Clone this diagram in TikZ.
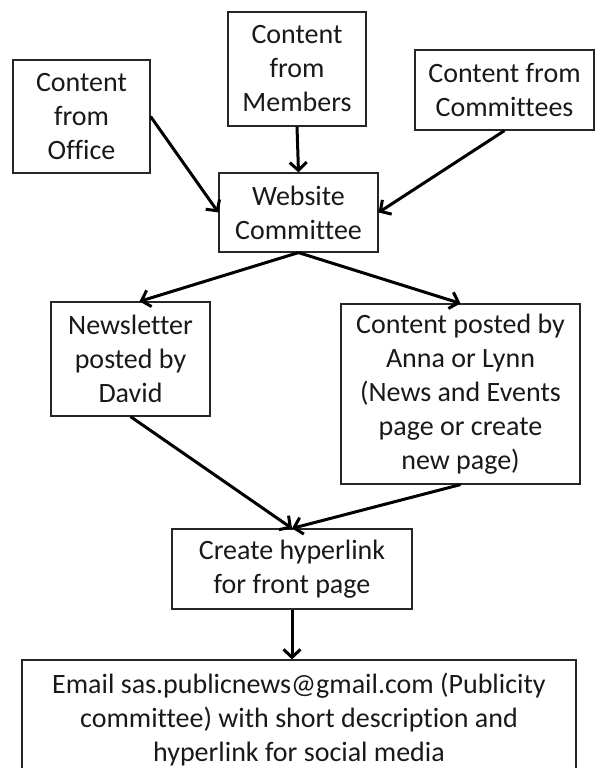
\documentclass[tikz,border=0pt]{standalone}
\usepackage{fontspec}
\setmainfont{Carlito}[Ligatures=NoCommon]
\usetikzlibrary{arrows.meta,calc}
\begin{document}
\begin{tikzpicture}[x=1pt,y=-1pt,
  box/.style={draw=black!85,line width=1.2pt,align=center,inner sep=0pt,
    font=\fontsize{28}{34}\selectfont,text=black!90},
  arr/.style={line width=3pt,-{Straight Barb[length=8pt,width=17pt,line width=3pt]}}]
\useasboundingbox (0,0) rectangle (595,768);
\node[box,minimum width=137pt,minimum height=113pt] (office) at (81.5,116.5) {Content\\from\\Office};
\node[box,minimum width=138pt,minimum height=114pt] (members) at (297,69) {Content\\from\\Members};
\node[box,minimum width=179pt,minimum height=80pt] (committees) at (504.5,90) {Content from\\Committees};
\node[box,minimum width=159pt,minimum height=79pt] (website) at (298.5,212.5) {Website\\Committee};
\node[box,minimum width=159pt,minimum height=114pt] (newsletter) at (130.5,359) {Newsletter\\posted by\\David};
\node[box,minimum width=239pt,minimum height=180pt] (content) at (460.5,394) {Content posted by\\Anna or Lynn\\(News and Events\\page or create\\new page)};
\node[box,minimum width=240pt,minimum height=80pt] (create) at (292,569) {Create hyperlink\\for front page};
\node[box,minimum width=554pt,minimum height=120pt] (email) at (299,720) {Email sas.publicnews@gmail.com (Publicity\\committee) with short description and\\hyperlink for social media};
\draw[arr] (office.east) -- (website.west);
\draw[arr] (members.south) -- (website.north);
\draw[arr] (committees.south) -- (website.east);
\draw[arr] (website.south) -- ($(newsletter.north)+(9,0)$);
\draw[arr] (website.south) -- (content.north);
\draw[arr] (newsletter.south) -- (create.north);
\draw[arr] (content.south) -- (create.north);
\draw[arr] (create.south) -- (create.south |- email.north);
\end{tikzpicture}
\end{document}
